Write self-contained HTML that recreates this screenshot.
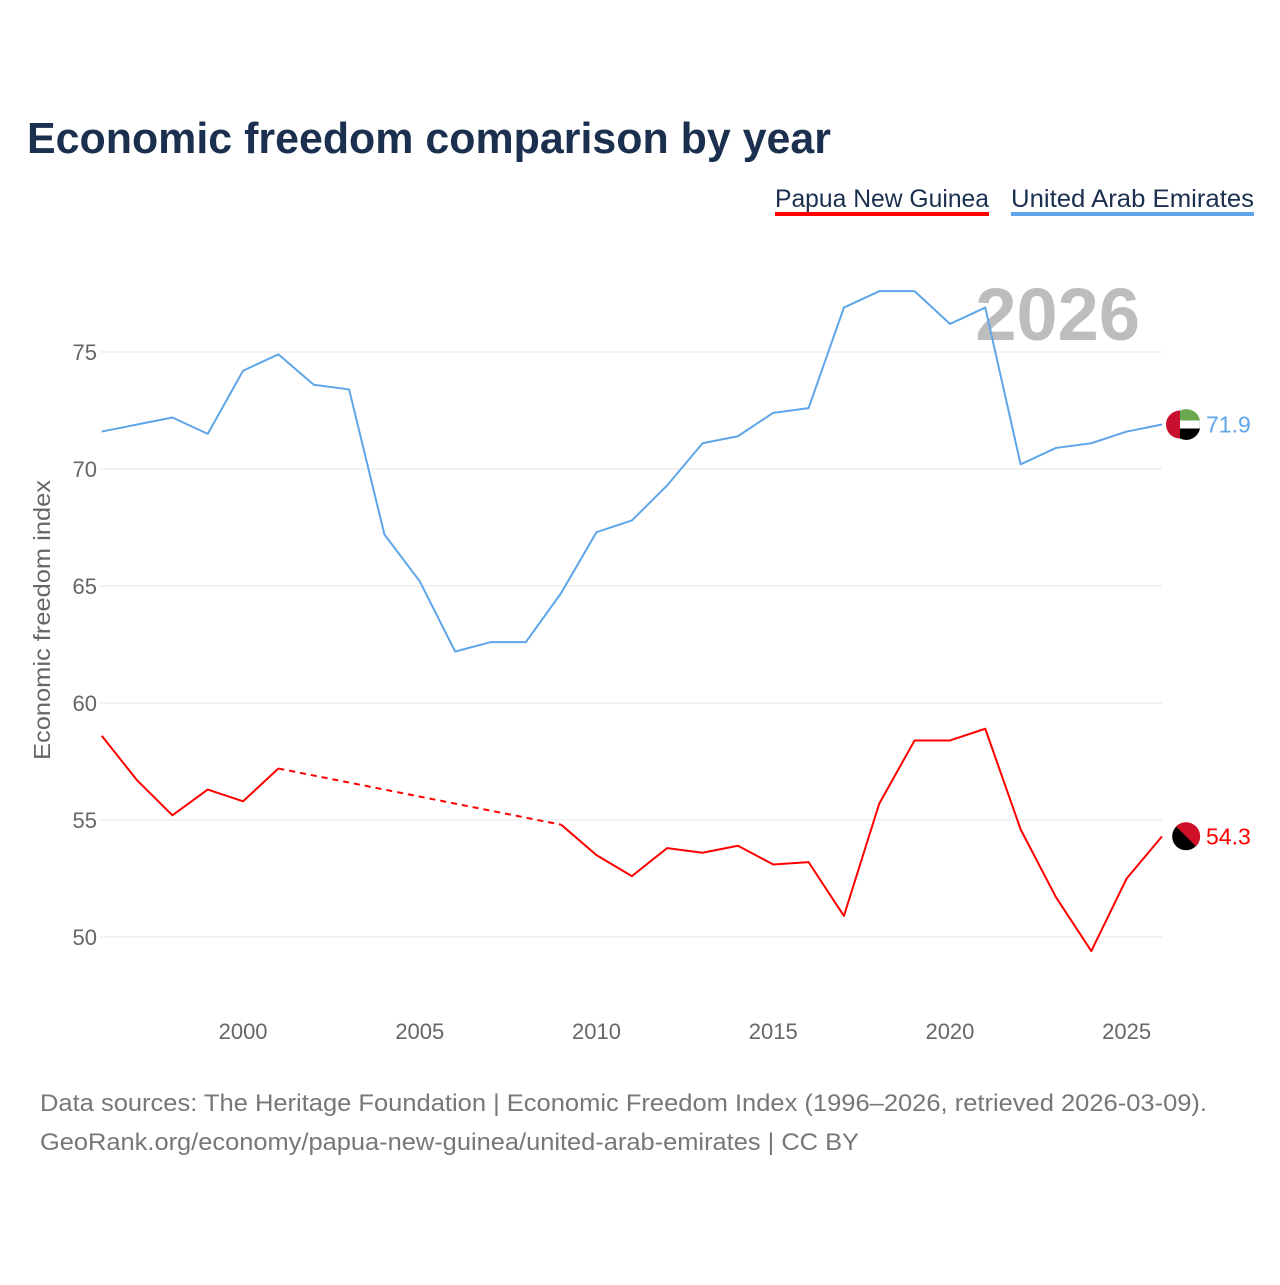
<!DOCTYPE html>
<html><head><meta charset="utf-8"><style>
body{margin:0;background:#fff;font-family:"Liberation Sans",sans-serif}
</style></head><body>
<svg width="1280" height="1280" viewBox="0 0 1280 1280" xmlns="http://www.w3.org/2000/svg" style="font-family:'Liberation Sans',sans-serif">
<text x="27" y="153" font-size="44" font-weight="bold" fill="#1b2f4e" textLength="804" lengthAdjust="spacingAndGlyphs">Economic freedom comparison by year</text>
<g>
<text x="775" y="207" font-size="25" fill="#1b2f4e" textLength="214" lengthAdjust="spacingAndGlyphs">Papua New Guinea</text>
<rect x="775" y="212" width="214" height="4" fill="#ff0000"/>
<text x="1011" y="207" font-size="25" fill="#1b2f4e" textLength="243" lengthAdjust="spacingAndGlyphs">United Arab Emirates</text>
<rect x="1011" y="212" width="243" height="4" fill="#5ea6e8"/>
</g>
<text x="1140" y="340" font-size="74" font-weight="bold" fill="#bdbdbd" text-anchor="end">2026</text>
<g id="grid"></g>
<g id="yt"></g>
<g id="xt"></g>
<text transform="translate(50,620) rotate(-90)" font-size="23" fill="#666" text-anchor="middle" textLength="280" lengthAdjust="spacingAndGlyphs">Economic freedom index</text>
<g id="series"></g>
<text x="40" y="1111" font-size="24" fill="#777" textLength="1167" lengthAdjust="spacingAndGlyphs">Data sources: The Heritage Foundation | Economic Freedom Index (1996–2026, retrieved 2026-03-09).</text>
<text x="40" y="1150" font-size="24" fill="#777" textLength="819" lengthAdjust="spacingAndGlyphs">GeoRank.org/economy/papua-new-guinea/united-arab-emirates | CC BY</text>
</svg>
<script>
const years=[1996,1997,1998,1999,2000,2001,2002,2003,2004,2005,2006,2007,2008,2009,2010,2011,2012,2013,2014,2015,2016,2017,2018,2019,2020,2021,2022,2023,2024,2025,2026];
const uae=[71.6,71.9,72.2,71.5,74.2,74.9,73.6,73.4,67.2,65.2,62.2,62.6,62.6,64.7,67.3,67.8,69.3,71.1,71.4,72.4,72.6,76.9,77.6,77.6,76.2,76.9,70.2,70.9,71.1,71.6,71.9];
const png=[58.6,56.7,55.2,56.3,55.8,57.2,null,null,null,null,null,null,null,54.8,53.5,52.6,53.8,53.6,53.9,53.1,53.2,50.9,55.7,58.4,58.4,58.9,54.6,51.7,49.4,52.5,54.3];
const yTicks=[50,55,60,65,70,75];
const xTicks=[2000,2005,2010,2015,2020,2025];
const NS="http://www.w3.org/2000/svg";
const X=y=>101.7+(y-1996)*(1162-101.7)/30;
const Y=v=>352+(75-v)*23.4;
function mk(t,a,p){const e=document.createElementNS(NS,t);for(const k in a)e.setAttribute(k,a[k]);p.appendChild(e);return e;}
const grid=document.getElementById('grid'),yt=document.getElementById('yt'),xt=document.getElementById('xt'),se=document.getElementById('series');
yTicks.forEach(v=>{
const l=mk('line',{x1:100,x2:1162,y1:Y(v),y2:Y(v),stroke:'#e6e6e6','stroke-width':1},grid);


const t=mk('text',{x:97,y:Y(v)+8,'font-size':22,fill:'#666','text-anchor':'end'},yt);t.textContent=v;


});
xTicks.forEach(v=>{
const t=mk('text',{x:X(v),y:1039,'font-size':22,fill:'#666','text-anchor':'middle'},xt);t.textContent=v;


});
function draw(vals,color,name){
let seg=[],prev=null;const solid=[];
vals.forEach((v,i)=>{if(v==null)return;const pt=[X(years[i]),Y(v)];
if(prev&&prev.i!==i-1){const d=mk('line',{x1:prev.p[0],y1:prev.p[1],x2:pt[0],y2:pt[1],stroke:color,'stroke-width':2,'stroke-dasharray':'6,5'},se);


solid.push(seg);seg=[];}
seg.push(pt);prev={i,p:pt};});
solid.push(seg);
solid.forEach(s=>{if(s.length<2)return;const p=mk('polyline',{points:s.map(q=>q.join(',')).join(' '),fill:'none',stroke:color,'stroke-width':2,'stroke-linejoin':'round'},se);

});
const last=vals[vals.length-1],lx=X(years[years.length-1])+24,ly=Y(last);
const c=mk('circle',{cx:lx,cy:ly,r:14,fill:name==='uae'?'#fff':'#000',stroke:'#ccc','stroke-width':0.5},se);


if(name==='uae'){mk('path',{d:`M${lx-6},${ly-14} A14,14 0 0 1 ${lx+14},${ly-4} L${lx-6},${ly-4}Z`,fill:'#6aa84f'},se);
mk('path',{d:`M${lx-6},${ly+4} L${lx+14},${ly+4} A14,14 0 0 1 ${lx-6},${ly+14}Z`,fill:'#000'},se);
mk('path',{d:`M${lx-6},${ly-14} A14,14 0 0 0 ${lx-6},${ly+14}Z`,fill:'#c8102e'},se);}
else{mk('path',{d:`M${lx-10},${ly-10} A14,14 0 0 1 ${lx+10},${ly+10}Z`,fill:'#ce1126'},se);}
const t=mk('text',{x:lx+20,y:ly+8,'font-size':23,fill:color},se);t.textContent=last.toFixed(1);


}
draw(uae,'#5ea6e8','uae');
draw(png,'#ff0000','png');
</script>
</body></html>
